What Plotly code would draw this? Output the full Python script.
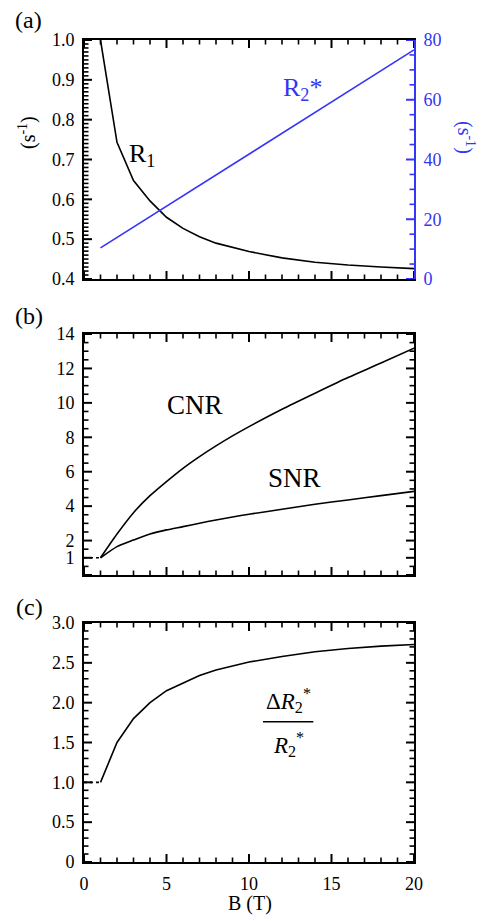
import plotly.graph_objects as go

# ---------------- data ----------------
B_r1 = [1, 2, 3, 4, 5, 6, 7, 8, 10, 12, 14, 16, 18, 20]
R1 = [1.0, 0.743, 0.647, 0.596, 0.555, 0.527, 0.506, 0.490, 0.469, 0.453, 0.442, 0.435, 0.430, 0.426]

B_r2 = [1, 5, 10, 15, 20]
R2s = [10.4, 24.4, 41.8, 59.3, 76.7]

B_nr = [1, 2, 3, 4, 5, 6, 7, 8, 9, 10, 12, 14, 16, 18, 20]
CNR = [1.0, 2.38, 3.62, 4.61, 5.43, 6.20, 6.88, 7.50, 8.08, 8.62, 9.63, 10.56, 11.47, 12.31, 13.18]
SNR = [1.0, 1.65, 2.03, 2.38, 2.62, 2.81, 3.01, 3.20, 3.37, 3.53, 3.82, 4.11, 4.36, 4.61, 4.86]

B_dr = [1, 2, 3, 4, 5, 6, 7, 8, 10, 12, 14, 16, 18, 20]
dR_ratio = [1.0, 1.50, 1.80, 2.00, 2.15, 2.24, 2.34, 2.41, 2.51, 2.58, 2.64, 2.68, 2.71, 2.73]

ref_x = [0, 1]
ref_y = [1, 1]

xticks = [0, 5, 10, 15, 20]
yticks_a = [0.4, 0.5, 0.6, 0.7, 0.8, 0.9, 1.0]
yticktext_a = ["0.4", "0.5", "0.6", "0.7", "0.8", "0.9", "1.0"]
yticks_a2 = [0, 20, 40, 60, 80]
yticks_b = [1, 2, 4, 6, 8, 10, 12, 14]
yticks_c = [0, 0.5, 1.0, 1.5, 2.0, 2.5, 3.0]
yticktext_c = ["0", "0.5", "1.0", "1.5", "2.0", "2.5", "3.0"]

# axis ranges
XR = [0, 20]
YR_A = [0.4, 1.0]
YR_A2 = [0, 80]
YR_B = [0, 14]
YR_C = [0, 3.0]

# tick positions (all steps of each axis; majors are the labelled ones)
minor_x = list(range(0, 21))
minor_a = [round(0.4 + 0.01 * i, 3) for i in range(61)]
minor_a2 = list(range(0, 81, 5))
minor_b = [0.5 * i for i in range(29)]
minor_c = [round(0.1 * i, 2) for i in range(31)]

# ---------------- style ----------------
W, H = 484, 921
FONT = "Liberation Serif"
BLUE = "#3535f5"
BLACK = "black"
TICKF = dict(family=FONT, size=18, color=BLACK)
MAJOR_LEN = 8
MINOR_LEN = 4.5

def px_x(p):
    return p / W

def px_y(p):
    return 1 - p / H

X_PX = (84, 414)
A_PX = (40, 279)
B_PX = (334, 575)
C_PX = (623, 862)
XD = [px_x(X_PX[0]), px_x(X_PX[1])]
DOM_A = [px_y(A_PX[1]), px_y(A_PX[0])]
DOM_B = [px_y(B_PX[1]), px_y(B_PX[0])]
DOM_C = [px_y(C_PX[1]), px_y(C_PX[0])]

fig = go.Figure()

line_style = dict(color=BLACK, width=1.6)
smooth = dict(color=BLACK, width=1.6, shape="spline", smoothing=0.6)

fig.add_trace(go.Scatter(x=B_r1, y=R1, mode="lines", line=line_style, xaxis="x", yaxis="y"))
fig.add_trace(go.Scatter(x=B_r2, y=R2s, mode="lines", line=dict(color=BLUE, width=1.6), xaxis="x", yaxis="y4"))
fig.add_trace(go.Scatter(x=B_nr, y=CNR, mode="lines", line=smooth, xaxis="x2", yaxis="y2"))
fig.add_trace(go.Scatter(x=B_nr, y=SNR, mode="lines", line=smooth, xaxis="x2", yaxis="y2"))
fig.add_trace(go.Scatter(x=ref_x, y=ref_y, mode="lines", line=dict(color=BLACK, width=1.6, dash="dot"), xaxis="x2", yaxis="y2"))
fig.add_trace(go.Scatter(x=B_dr, y=dR_ratio, mode="lines", line=line_style, xaxis="x3", yaxis="y3"))
fig.add_trace(go.Scatter(x=ref_x, y=ref_y, mode="lines", line=dict(color=BLACK, width=1.6, dash="dot"), xaxis="x3", yaxis="y3"))

# ---------- tick marks drawn as line traces on each subplot's own axes ----------
X_UNIT = (XR[1] - XR[0]) / (X_PX[1] - X_PX[0])   # data units per pixel

def is_major(v, majors):
    return any(abs(v - m) < 1e-9 for m in majors)

def x_tick_trace(xa, ya, yrange, panel_px):
    y_unit = (yrange[1] - yrange[0]) / (panel_px[1] - panel_px[0])
    for base, sgn in [(yrange[0], 1), (yrange[1], -1)]:
        for minor in (True, False):
            xs, ys = [], []
            for v in minor_x:
                if is_major(v, xticks) == minor:
                    continue
                L = (MINOR_LEN if minor else MAJOR_LEN) * y_unit
                xs += [v, v, None]
                ys += [base, base + sgn * L, None]
            fig.add_trace(go.Scatter(x=xs, y=ys, mode="lines", xaxis=xa, yaxis=ya,
                                     line=dict(color=BLACK, width=1.6 if minor else 2),
                                     hoverinfo="skip"))

def y_tick_trace(xa, ya, vals, majors, yrange, panel_px, sides, color=BLACK):
    for base, sgn in sides:
        for minor in (True, False):
            xs, ys = [], []
            for v in vals:
                if is_major(v, majors) == minor:
                    continue
                L = (MINOR_LEN if minor else MAJOR_LEN) * X_UNIT
                xs += [base, base + sgn * L, None]
                ys += [v, v, None]
            fig.add_trace(go.Scatter(x=xs, y=ys, mode="lines", xaxis=xa, yaxis=ya,
                                     line=dict(color=color, width=1.6 if minor else 2),
                                     hoverinfo="skip"))

both_sides = [(XR[0], 1), (XR[1], -1)]
x_tick_trace("x", "y", YR_A, A_PX)
x_tick_trace("x2", "y2", YR_B, B_PX)
x_tick_trace("x3", "y3", YR_C, C_PX)
y_tick_trace("x", "y", minor_a, yticks_a, YR_A, A_PX, [(XR[0], 1)])
y_tick_trace("x", "y4", minor_a2, yticks_a2, YR_A2, A_PX, [(XR[1], -1)], color=BLUE)
y_tick_trace("x2", "y2", minor_b, yticks_b + [0], YR_B, B_PX, both_sides)
y_tick_trace("x3", "y3", minor_c, yticks_c, YR_C, C_PX, both_sides)

def xax(anchor, labels):
    return dict(domain=XD, anchor=anchor, range=XR, tickmode="array", tickvals=xticks,
                showticklabels=labels, ticks="", showline=True, linecolor=BLACK, linewidth=2,
                mirror=True, showgrid=False, zeroline=False, tickfont=TICKF,
                automargin=False, ticklabelstandoff=4)

def yax(anchor, dom, rng, tv, tt, mirror=True):
    d = dict(domain=dom, anchor=anchor, range=rng, tickmode="array", tickvals=tv,
             ticks="", showline=True, linecolor=BLACK, linewidth=2, mirror=mirror,
             showgrid=False, zeroline=False, tickfont=TICKF, automargin=False,
             ticklabelstandoff=4)
    if tt is not None:
        d["ticktext"] = tt
    return d

fig.update_layout(
    width=W, height=H, autosize=False,
    margin=dict(l=0, r=0, t=0, b=0),
    paper_bgcolor="white", plot_bgcolor="white",
    showlegend=False,
    xaxis=xax("y", False),
    xaxis2=xax("y2", False),
    xaxis3=xax("y3", True),
    yaxis=yax("x", DOM_A, YR_A, yticks_a, yticktext_a, mirror=False),
    yaxis2=yax("x2", DOM_B, YR_B, yticks_b, None),
    yaxis3=yax("x3", DOM_C, YR_C, yticks_c, yticktext_c),
    yaxis4=dict(domain=DOM_A, anchor="x", overlaying="y", side="right",
                range=YR_A2, tickmode="array", tickvals=yticks_a2, ticks="",
                showline=True, linecolor=BLUE, linewidth=2, showgrid=False,
                zeroline=False, automargin=False, ticklabelstandoff=4,
                tickfont=dict(family=FONT, size=18, color=BLUE)),
)

# fraction bar of the ratio label in panel (c)
fig.add_shape(type="line", xref="x3", yref="y3", x0=10.85, x1=13.9, y0=1.76, y1=1.76,
              line=dict(color=BLACK, width=1.5))

ann = []
def paper_text(text, x, y, size, color=BLACK, angle=0):
    ann.append(dict(text=text, x=px_x(x), y=px_y(y), xref="paper", yref="paper",
                    showarrow=False, xanchor="center", yanchor="middle",
                    textangle=angle, font=dict(family=FONT, size=size, color=color)))

paper_text("(a)", 28, 20, 24)
paper_text("(b)", 29, 316, 24)
paper_text("(c)", 29, 607, 24)
paper_text("(s<sup>-1</sup>)", 27, 133, 20, angle=-90)
paper_text("(s<sup>-1</sup>)", 466, 137, 20, color=BLUE, angle=90)
paper_text("B (T)", 250, 903, 20)

def data_text(text, x, y, xr, yr, size, color=BLACK, xanchor="left"):
    ann.append(dict(text=text, x=x, y=y, xref=xr, yref=yr, showarrow=False,
                    xanchor=xanchor, yanchor="middle",
                    font=dict(family=FONT, size=size, color=color)))

data_text("R<sub>1</sub>", 2.6, 0.712, "x", "y", 26)
data_text("R<sub>2</sub>*", 11.95, 63.5, "x", "y4", 26, color=BLUE)
data_text("CNR", 4.9, 9.85, "x2", "y2", 27)
data_text("SNR", 11.0, 5.65, "x2", "y2", 27)
data_text("Δ<i>R</i><sub>2</sub><sup>*</sup>", 12.37, 2.03, "x3", "y3", 23, xanchor="center")
data_text("<i>R</i><sub>2</sub><sup>*</sup>", 12.37, 1.47, "x3", "y3", 23, xanchor="center")
data_text("1", 1, -0.42, "x3", "y3", 18, xanchor="center")

fig.update_layout(annotations=ann)

fig.write_html("out.html", config={"displayModeBar": False},
               post_script="document.body.style.margin='0';document.body.style.padding='0';document.body.style.overflow='hidden';")
